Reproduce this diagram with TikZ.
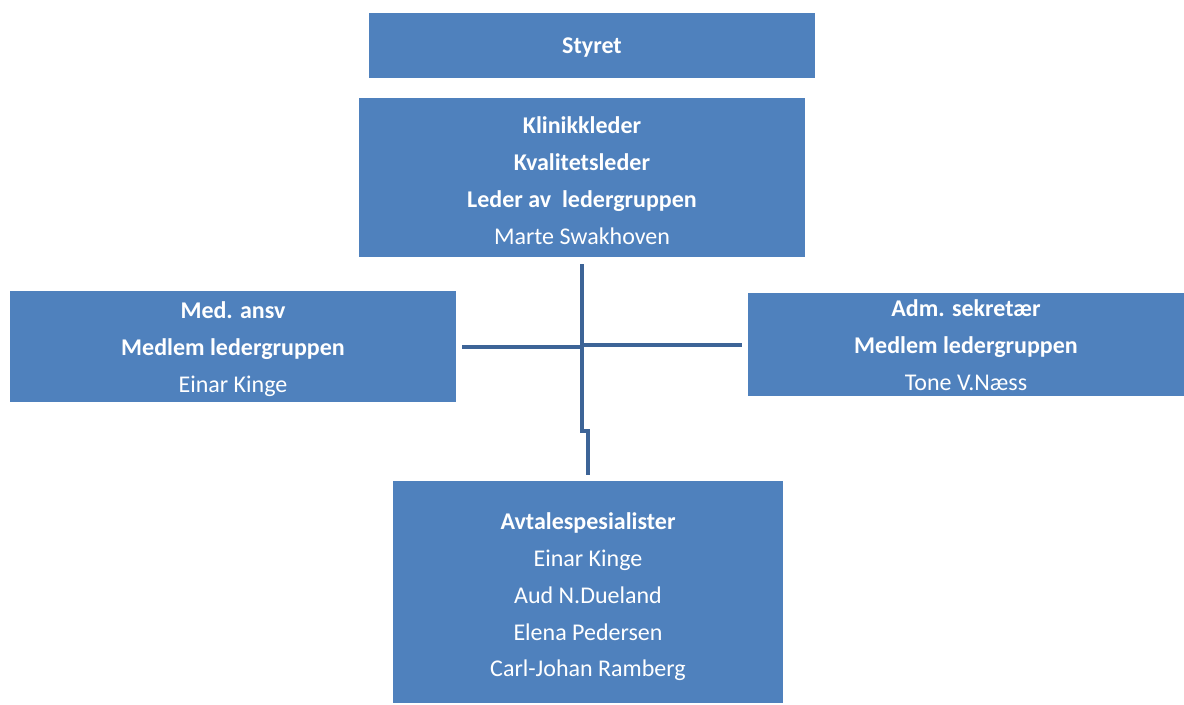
\documentclass[tikz,border=0pt]{standalone}
\usepackage{fontspec}
\setmainfont{Carlito}
\definecolor{boxblue}{HTML}{4F81BD}
\definecolor{lineblue}{HTML}{3D6497}
\begin{document}
\begin{tikzpicture}[x=0.75pt,y=-0.75pt,
  orgbox/.style={rectangle,fill=boxblue,draw=none,inner sep=0pt},
  orgtext/.style={inner sep=0pt,text=white,align=center,
    font=\fontsize{18}{27.6}\selectfont},
  conn/.style={draw=lineblue,line width=3pt}]
\useasboundingbox (0,0) rectangle (1184,704);

% boxes
\node[orgbox,minimum width=334.5pt,minimum height=48.75pt] (sty) at (592,45.5) {};
\node[orgbox,minimum width=334.5pt,minimum height=119.25pt] (kl) at (582,177.5) {};
\node[orgbox,minimum width=334.5pt,minimum height=83.25pt] (med) at (233,346.5) {};
\node[orgbox,minimum width=327pt,minimum height=77.25pt] (adm) at (966,344.5) {};
\node[orgbox,minimum width=292.5pt,minimum height=166.5pt] (av) at (588,592) {};

% texts
\node[orgtext] (sty-t) at ([yshift=-1.5pt]sty.center) {\textbf{Styret}};
\node[orgtext] (kl-t) at ([yshift=-2.25pt]kl.center)
  {\textbf{Klinikkleder}\\\textbf{Kvalitetsleder}\\\textbf{Leder av\ \ ledergruppen}\\Marte Swakhoven};
\node[orgtext] (med-t) at ([yshift=-1.9pt]med.center)
  {\textbf{Med. ansv}\\\textbf{Medlem ledergruppen}\\Einar Kinge};
\node[orgtext] (adm-t) at ([yshift=-0.4pt]adm.center)
  {\textbf{Adm. sekretær}\\\textbf{Medlem ledergruppen}\\Tone V.Næss};
\node[orgtext] (av-t) at ([yshift=-3.75pt]av.center)
  {\textbf{Avtalespesialister}\\Einar Kinge\\Aud N.Dueland\\Elena Pedersen\\Carl-Johan Ramberg};

% trunk from the leader down to the specialists, with a small jog
\coordinate (bend) at (582,431);
\draw[conn] ([yshift=-5.25pt]kl.south) -- (bend) -| ([yshift=4.5pt]av.north);
% side branches
\draw[conn] ([xshift=4.5pt]med.east) -- (med.east -| kl.south);
\draw[conn] ([xshift=-4.5pt]adm.west) -- (adm.west -| kl.south);
\end{tikzpicture}
\end{document}
